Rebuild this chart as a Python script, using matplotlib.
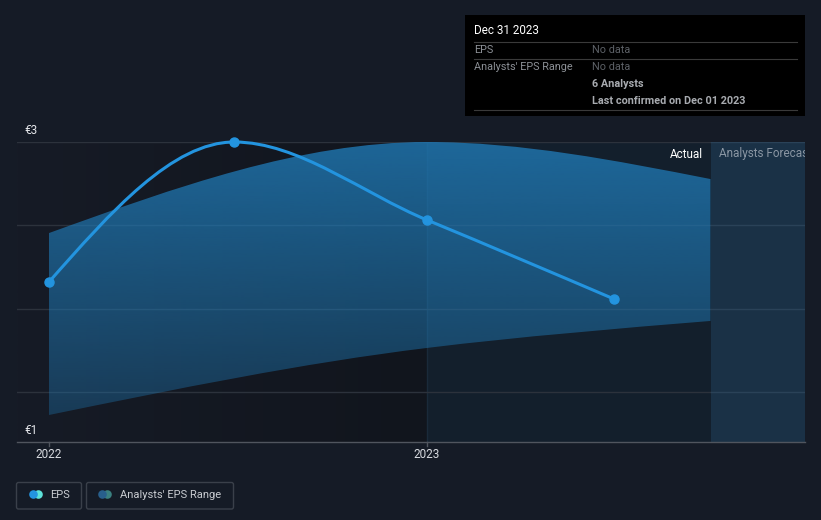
import numpy as np
import matplotlib
matplotlib.use("Agg")
import matplotlib.pyplot as plt
from matplotlib.path import Path
from matplotlib.patches import PathPatch, Rectangle, FancyBboxPatch, Circle

plt.rcParams['font.family'] = ['Roboto', 'DejaVu Sans']

# ---------------- data ----------------
eps_x = [2022.0, 2022.49, 2023.0, 2023.495]
eps_y = [2.067, 3.0, 2.48, 1.953]

range_x = [2022.0, 2023.0, 2023.75]
range_hi = [2.393, 3.0, 2.753]
range_lo = [1.18, 1.627, 1.807]

x_ticks = [2022.0, 2023.0]
x_tick_labels = ["2022", "2023"]
y_labels = ["€3", "€1"]
y_label_vals = [3.0, 1.0]

actual_split = 2023.0
forecast_start = 2023.75

tooltip_title = "Dec 31 2023"
tooltip_rows = [("EPS", "No data"), ("Analysts' EPS Range", "No data")]
tooltip_extra = ["6 Analysts", "Last confirmed on Dec 01 2023"]
legend_labels = ["EPS", "Analysts' EPS Range"]

# ---------------- helpers ----------------
def mono_bezier(xs, ys):
    xs = np.asarray(xs, float); ys = np.asarray(ys, float)
    h = np.diff(xs); d = np.diff(ys) / h
    n = len(xs); m = np.zeros(n)
    for i in range(1, n - 1):
        if d[i - 1] * d[i] <= 0:
            m[i] = 0.0
        else:
            w1 = 2 * h[i] + h[i - 1]; w2 = h[i] + 2 * h[i - 1]
            m[i] = (w1 + w2) / (w1 / d[i - 1] + w2 / d[i])
    m[0] = (3 * d[0] - m[1]) / 2 if n > 2 else d[0]
    m[-1] = (3 * d[-1] - m[-2]) / 2 if n > 2 else d[-1]
    segs = []
    for i in range(n - 1):
        c1 = (xs[i] + h[i] / 3, ys[i] + m[i] * h[i] / 3)
        c2 = (xs[i + 1] - h[i] / 3, ys[i + 1] - m[i + 1] * h[i] / 3)
        segs.append(((xs[i], ys[i]), c1, c2, (xs[i + 1], ys[i + 1])))
    return segs

def curve_path(xs, ys):
    segs = mono_bezier(xs, ys)
    verts = [segs[0][0]]; codes = [Path.MOVETO]
    for s in segs:
        verts += [s[1], s[2], s[3]]; codes += [Path.CURVE4] * 3
    return Path(verts, codes)

def band_path(xs, hi, lo):
    up = mono_bezier(xs, hi)
    dn = mono_bezier(xs, lo)
    verts = [up[0][0]]; codes = [Path.MOVETO]
    for s in up:
        verts += [s[1], s[2], s[3]]; codes += [Path.CURVE4] * 3
    verts.append(dn[-1][3]); codes.append(Path.LINETO)
    for s in reversed(dn):
        verts += [s[2], s[1], s[0]]; codes += [Path.CURVE4] * 3
    verts.append(up[0][0]); codes.append(Path.CLOSEPOLY)
    return Path(verts, codes)

# ---------------- figure ----------------
BG = '#151b26'
W, H = 821, 520
fig = plt.figure(figsize=(W / 100, H / 100), dpi=100, facecolor=BG)

x0 = 2022.0 - 32 / 378
x1 = 2024.0
ax = fig.add_axes([17 / W, 78 / H, 788 / W, 300 / H])
ax.set_facecolor(BG)
ax.set_xlim(x0, x1)
ax.set_ylim(1.0, 3.0)
for s in ax.spines.values():
    s.set_visible(False)
ax.set_xticks([]); ax.set_yticks([])

# background regions
grad = np.linspace(0, 1, 256).reshape(1, -1)
c_a = np.array([0x16, 0x1b, 0x26]) / 255
c_b = np.array([0x11, 0x15, 0x1d]) / 255
img = c_a[None, None, :] * (1 - grad[..., None]) + c_b[None, None, :] * grad[..., None]
ax.imshow(img, extent=[x0, actual_split, 1.0, 3.0], aspect='auto', zorder=0)
ax.axvspan(actual_split, forecast_start, color='#131f2c', lw=0, zorder=0)
ax.axvspan(forecast_start, x1, color='#1a3146', lw=0, zorder=0)
ax.axvline(actual_split, color='#1a2a3a', lw=1, zorder=0.5)

# gridlines
for k in range(4):
    yv = 3.0 - k * (83.3 / 150)
    ax.plot([x0, forecast_start], [yv, yv], color='#2c323c', lw=1, zorder=1)
    ax.plot([forecast_start, x1], [yv, yv], color='#2a4258', lw=1, zorder=1)

# range band with vertical gradient
bp = band_path(range_x, range_hi, range_lo)
alpha = np.linspace(0.30, 0.80, 256).reshape(-1, 1)
rgba = np.zeros((256, 1, 4))
rgba[..., 0] = 32 / 255; rgba[..., 1] = 122 / 255; rgba[..., 2] = 182 / 255
rgba[..., 3] = alpha
im = ax.imshow(rgba, extent=[x0, x1, 1.0, 3.0], origin='lower', aspect='auto', zorder=2)
patch = PathPatch(bp, transform=ax.transData, facecolor='none', edgecolor='none')
ax.add_patch(patch)
im.set_clip_path(patch)

# EPS line
ep = curve_path(eps_x, eps_y)
ax.add_patch(PathPatch(ep, facecolor='none', edgecolor='#2394df', lw=2.2, zorder=4,
                       capstyle='round', joinstyle='round', clip_on=False))
ax.plot(eps_x, eps_y, 'o', color='#2394df', ms=6.5, zorder=5, clip_on=False)

# labels inside plot
ax.text(forecast_start - 0.02, 2.92, "Actual", color='#ffffff', fontsize=8.5,
        ha='right', va='center', zorder=6)
ax.text(forecast_start + 0.022, 2.92, "Analysts Forecast", color='#8a96a3', fontsize=8.5,
        ha='left', va='center', zorder=6, clip_on=True)

# ---------------- overlay (pixel coords) ----------------
ov = fig.add_axes([0, 0, 1, 1], facecolor='none')
ov.set_xlim(0, W); ov.set_ylim(H, 0); ov.axis('off')

# x axis line and ticks
ov.plot([17, 805], [442, 442], color='#50555e', lw=1)
for xv, lab in zip(x_ticks, x_tick_labels):
    px = 17 + (xv - x0) * 378
    ov.plot([px, px], [442, 446], color='#50555e', lw=1)
    ov.text(px, 455, lab, color='#d8dbe0', fontsize=8.5, ha='center', va='center')
for lab, yv in zip(y_labels, y_label_vals):
    py = 442 - (yv - 1.0) * 150 - 12
    ov.text(24, py, lab, color='#e4e6ea', fontsize=8.5, ha='left', va='center')

# tooltip
ov.add_patch(Rectangle((465, 15), 340, 101, facecolor='#000000', edgecolor='none'))
ov.text(474, 31, tooltip_title, color='#ffffff', fontsize=8.4, ha='left', va='center')
for yl in (41.5, 58.5, 109.5):
    ov.plot([474, 797], [yl, yl], color='#3a3a3a', lw=0.8)
for i, (lab, val) in enumerate(tooltip_rows):
    yy = 50 + i * 17
    ov.text(474, yy, lab, color='#8c9096', fontsize=7.8, ha='left', va='center')
    ov.text(592, yy, val, color='#5c6066', fontsize=7.8, ha='left', va='center')
for i, t in enumerate(tooltip_extra):
    ov.text(592, 84 + i * 17, t, color='#a8abb0', fontsize=7.8, ha='left', va='center',
            fontweight='bold')

# legend
ov.add_patch(FancyBboxPatch((16.5, 482.5), 65, 26.5, boxstyle='round,pad=0,rounding_size=2',
                            facecolor='none', edgecolor='#3a404a', lw=1))
ov.add_patch(FancyBboxPatch((86.5, 482.5), 147, 26.5, boxstyle='round,pad=0,rounding_size=2',
                            facecolor='none', edgecolor='#3a404a', lw=1))
ov.add_patch(Circle((38.5, 494.5), 4.3, facecolor='#5de2d9', edgecolor='none'))
ov.add_patch(Circle((33.5, 494.5), 4.3, facecolor='#2394df', edgecolor='none'))
ov.add_patch(Circle((107.5, 494.5), 4.3, facecolor='#3a8080', edgecolor='none'))
ov.add_patch(Circle((102.5, 494.5), 4.3, facecolor='#285f8c', edgecolor='none'))
ov.text(50, 494.5, legend_labels[0], color='#c9ccd1', fontsize=8, ha='left', va='center')
ov.text(120, 494.5, legend_labels[1], color='#c9ccd1', fontsize=8, ha='left', va='center')

fig.savefig('out.png', dpi=100, facecolor=BG)
